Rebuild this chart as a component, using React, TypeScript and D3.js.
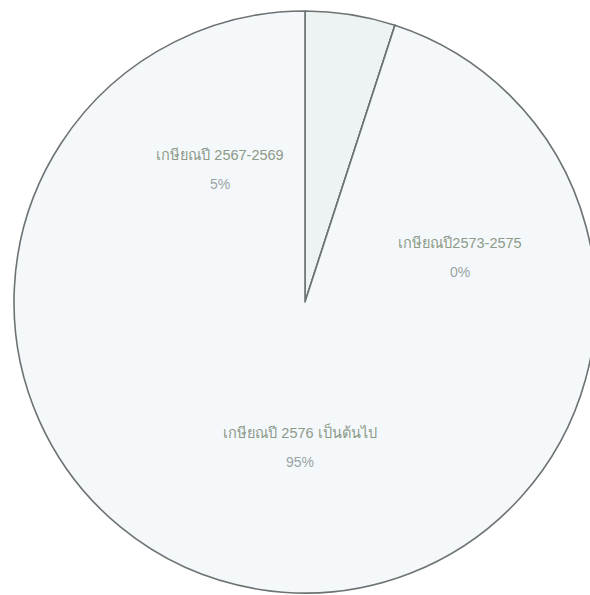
import React from "react";
import * as d3 from "d3";

const categories = ["เกษียณปี 2567-2569", "เกษียณปี2573-2575", "เกษียณปี 2576 เป็นต้นไป"];
const values = [5, 0, 95];
const percentLabels = ["5%", "0%", "95%"];

const W = 590;
const H = 595;
const CX = 305;
const CY = 302;
const R = 291;
const sliceFills = ["#ecf3f2", "#eff5f7", "#f4f8fb"];
// label anchor offsets from the centre (layout only)
const labelOffsets: [number, number][] = [
  [-85, -142],
  [155, -54],
  [-5, 136],
];

export default function App() {
  const pie = d3.pie<number>().sort(null).value((d) => d);
  const arcs = pie(values);
  const arcGen = d3.arc<d3.PieArcDatum<number>>().innerRadius(0).outerRadius(R);
  return (
    <div style={{ position: "fixed", left: 0, top: 0, width: W, height: H, background: "#fff" }}>
      <svg width={W} height={H} style={{ display: "block" }}>
        <rect width={W} height={H} fill="#ffffff" />
        <g transform={`translate(${CX},${CY})`}>
          {arcs.map((a, i) => (
            <path
              key={i}
              d={arcGen(a) || ""}
              fill={sliceFills[i]}
              stroke="#6d7373"
              strokeWidth={1.6}
              strokeLinejoin="round"
            />
          ))}
          {arcs.map((a, i) => (
            <g key={"l" + i} transform={`translate(${labelOffsets[i][0]},${labelOffsets[i][1]})`}>
              <text
                textAnchor="middle"
                fontFamily="'Liberation Sans', 'Noto Sans', sans-serif"
                fontSize={14.5}
                fill="#8d9a88"
              >
                {categories[i]}
              </text>
              <text
                y={29}
                textAnchor="middle"
                fontFamily="'Liberation Sans', 'Noto Sans', sans-serif"
                fontSize={14}
                fill="#9aa3a3"
              >
                {percentLabels[i]}
              </text>
            </g>
          ))}
        </g>
      </svg>
    </div>
  );
}
